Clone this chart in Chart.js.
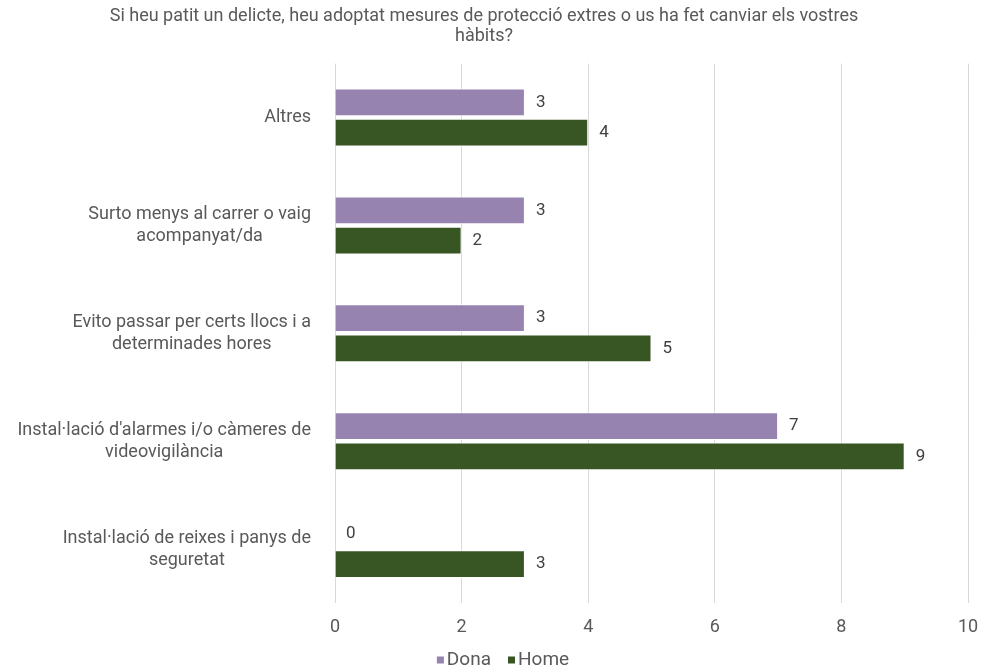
<!DOCTYPE html>
<html>
<head>
<meta charset="utf-8">
<script src="https://cdn.jsdelivr.net/npm/chart.js@4/dist/chart.umd.min.js"></script>
<style>
html,body{margin:0;padding:0;background:#fff;}
#wrap{width:983px;height:667px;position:relative;}
</style>
</head>
<body>
<div id="wrap"><canvas id="c" width="983" height="667"></canvas></div>
<script>
const titleLines = ["Si heu patit un delicte, heu adoptat mesures de protecció extres o us ha fet canviar els vostres", "hàbits?"];
const categories = [
  ["Altres"],
  ["Surto menys al carrer o vaig", "acompanyat/da"],
  ["Evito passar per certs llocs i a", "determinades hores"],
  ["Instal·lació d'alarmes i/o càmeres de", "videovigilància"],
  ["Instal·lació de reixes i panys de", "seguretat"]
];
const seriesNames = ["Dona", "Home"];
const seriesColors = ["#9683B0", "#375623"];
const donaValues = [3, 3, 3, 7, 0];
const homeValues = [4, 2, 5, 9, 3];
const xTicks = [0, 2, 4, 6, 8, 10];

const FONT = "Roboto, 'Liberation Sans', sans-serif";
const TXT = "#595959";

const yLabelPlugin = {
  id: 'yLabels',
  afterDraw(chart) {
    const ctx = chart.ctx;
    const y = chart.scales.y;
    ctx.save();
    ctx.font = "18px " + FONT;
    ctx.fillStyle = TXT;
    ctx.textAlign = 'center';
    ctx.textBaseline = 'middle';
    const lh = 22;
    const right = chart.chartArea.left - 24;
    categories.forEach((lines, i) => {
      const cy = y.getPixelForTick(i);
      const maxW = Math.max(...lines.map(l => ctx.measureText(l).width));
      const cx = right - maxW / 2;
      const y0 = cy - (lines.length - 1) * lh / 2;
      lines.forEach((l, k) => ctx.fillText(l, cx, y0 + k * lh));
    });
    ctx.restore();
  }
};

const valueLabelPlugin = {
  id: 'valueLabels',
  afterDatasetsDraw(chart) {
    const ctx = chart.ctx;
    ctx.save();
    ctx.font = "17px " + FONT;
    ctx.fillStyle = "#404040";
    ctx.textAlign = 'left';
    ctx.textBaseline = 'middle';
    chart.data.datasets.forEach((ds, di) => {
      const meta = chart.getDatasetMeta(di);
      meta.data.forEach((bar, i) => {
        ctx.fillText(String(ds.data[i]), bar.x + 11, bar.y);
      });
    });
    ctx.restore();
  }
};

const legendPlugin = {
  id: 'customLegend',
  afterDraw(chart) {
    const ctx = chart.ctx;
    ctx.save();
    ctx.font = "19px " + FONT;
    ctx.textBaseline = 'middle';
    ctx.textAlign = 'left';
    const box = 7, gapText = 3, gapItem = 17;
    const widths = seriesNames.map(n => box + gapText + ctx.measureText(n).width);
    const total = widths.reduce((a, b) => a + b, 0) + gapItem * (seriesNames.length - 1);
    let x = 503 - total / 2;
    const cy = chart.height - 7;
    seriesNames.forEach((n, i) => {
      ctx.fillStyle = seriesColors[i];
      ctx.fillRect(x, cy - box / 2, box, box);
      ctx.fillStyle = TXT;
      ctx.fillText(n, x + box + gapText, cy);
      x += widths[i] + gapItem;
    });
    ctx.restore();
  }
};

new Chart(document.getElementById('c'), {
  type: 'bar',
  data: {
    labels: categories.map(c => c.join(' ')),
    datasets: [
      { label: seriesNames[0], data: donaValues, backgroundColor: seriesColors[0], borderColor: '#ffffff', borderWidth: 1,
        categoryPercentage: 0.56, barPercentage: 0.92 },
      { label: seriesNames[1], data: homeValues, backgroundColor: seriesColors[1], borderColor: '#ffffff', borderWidth: 1,
        categoryPercentage: 0.56, barPercentage: 0.92 }
    ]
  },
  options: {
    indexAxis: 'y',
    responsive: false,
    animation: false,
    layout: { padding: { left: 0, right: 15, top: 7, bottom: 21 } },
    plugins: {
      title: {
        display: true, text: titleLines, color: TXT,
        font: { family: FONT, size: 18, weight: 'normal', lineHeight: 1.1 },
        padding: { top: 0, bottom: 17 }
      },
      legend: { display: false },
      tooltip: { enabled: false }
    },
    scales: {
      x: {
        min: 0, max: 10,
        afterBuildTicks(s) { s.ticks = xTicks.map(v => ({ value: v })); },
        grid: { color: '#d9d9d9', drawTicks: false },
        border: { display: false },
        ticks: { color: TXT, font: { family: FONT, size: 18 }, padding: 14 },
        afterFit(s) { s.paddingRight = 0; s.paddingLeft = 0; s.height = 43; }
      },
      y: {
        grid: { display: false },
        border: { display: false },
        ticks: { display: false },
        afterFit(s) { s.width = 335; }
      }
    }
  },
  plugins: [yLabelPlugin, valueLabelPlugin, legendPlugin]
});
</script>
</body>
</html>
